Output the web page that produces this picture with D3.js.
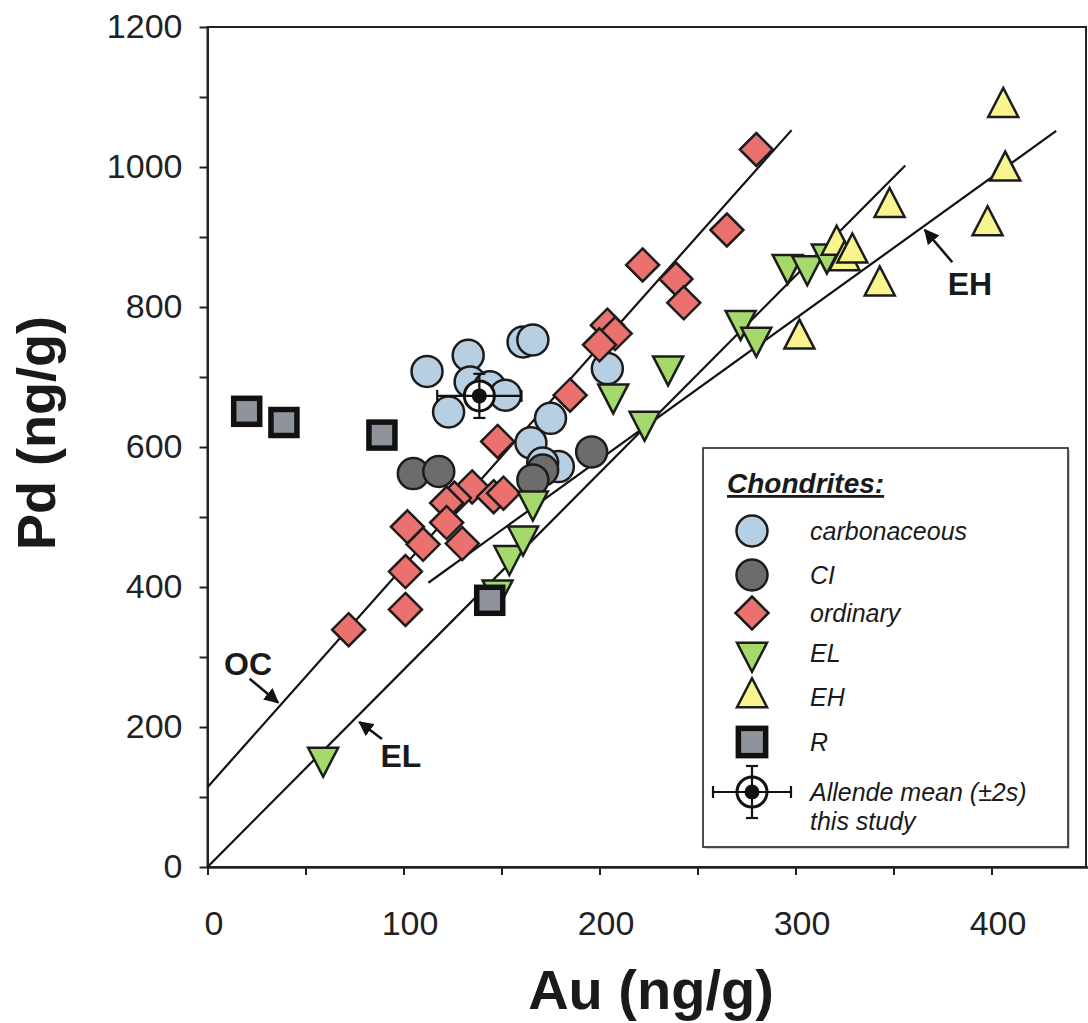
<!DOCTYPE html>
<html>
<head>
<meta charset="utf-8">
<script src="https://cdn.jsdelivr.net/npm/d3@7"></script>
<style>
  html, body { margin: 0; padding: 0; background: #fff; }
  svg { display: block; font-family: "Liberation Sans", Arial, Helvetica, sans-serif; }
</style>
</head>
<body>
<svg id="chart" width="1088" height="1023"></svg>
<script>
// Au vs Pd concentrations (ng/g) for chondrite groups
const carbonaceousAu = [112, 123, 133, 134, 144, 152, 161, 166, 204, 175, 165, 179, 171];
const carbonaceousPd = [708, 650, 731, 693, 686, 674, 750, 753, 712, 641, 606, 572, 577];

const ciAu = [105, 118, 196, 171, 166];
const ciPd = [562, 565, 593, 567, 553];

const ordinaryAu = [148, 135, 126, 122, 146, 151, 102, 122, 110, 130, 101, 101, 72,
                    280, 265, 222, 239, 243, 204, 208, 200, 185];
const ordinaryPd = [608, 543, 527, 520, 529, 534, 486, 492, 461, 462, 422, 368, 339,
                    1025, 910, 860, 840, 806, 774, 762, 746, 674];

const elAu = [59, 148, 154, 161, 166, 207, 223, 235, 272, 280, 296, 306, 316];
const elPd = [153, 392, 441, 469, 519, 672, 633, 712, 777, 753, 857, 855, 872];

const ehAu = [302, 321, 325, 329, 343, 348, 398, 406, 407];
const ehPd = [758, 892, 870, 881, 834, 946, 920, 1089, 998];

const rAu = [20, 39, 89, 144];
const rPd = [651, 635, 617, 381];

// Allende mean with ±2s
const allendeAu = 138.7, allendePd = 673;
const allendeErrAu = 21.5, allendeErrPd = 31.5;

// Regression lines: Pd = intercept + slope * Au over [auFrom, auTo]
const fitNames = ["OC", "EL", "EH"];
const fitIntercept = [114, 0, 179];
const fitSlope = [3.15, 2.815, 2.015];
const fitFrom = [0, 0, 112.7];
const fitTo = [298, 356, 433];

const xMajorTicks = [0, 100, 200, 300, 400];
const xMinorTicks = [50, 150, 250, 350];
const yMajorTicks = [0, 200, 400, 600, 800, 1000, 1200];
const yMinorTicks = [100, 300, 500, 700, 900, 1100];

const legendLabels = ["carbonaceous", "CI", "ordinary", "EL", "EH", "R"];

const svg = d3.select("#chart");
const x = d3.scaleLinear().domain([0, 450]).range([207.5, 1089.5]);
const y = d3.scaleLinear().domain([0, 1200]).range([867, 27]);

const INK = "#1c1c1c";
const styles = {
  carbonaceous: { fill: "#b7cfe2" },
  CI: { fill: "#6c6c6c" },
  ordinary: { fill: "#ea716e" },
  EL: { fill: "#a5d96b" },
  EH: { fill: "#f8f48e" },
  R: { fill: "#8f939c" }
};

// symbol path builders (pixel offsets from centre)
function diamondPath(h) { return `M0,${-h}L${h},0L0,${h}L${-h},0Z`; }
function triDownPath(w, h) { return `M${-w/2},${-h*0.42}L${w/2},${-h*0.42}L0,${h*0.58}Z`; }
function triUpPath(w, h) { return `M${-w/2},${h*0.42}L${w/2},${h*0.42}L0,${-h*0.58}Z`; }

function drawSymbol(g, type, cx, cy, scale = 1) {
  const t = `translate(${cx},${cy})`;
  if (type === "carbonaceous" || type === "CI") {
    g.append("circle").attr("cx", cx).attr("cy", cy).attr("r", 15.5 * scale)
      .attr("fill", styles[type].fill).attr("stroke", INK).attr("stroke-width", 2.5);
  } else if (type === "ordinary") {
    g.append("path").attr("d", diamondPath(16.5 * scale)).attr("transform", t)
      .attr("fill", styles.ordinary.fill).attr("stroke", INK).attr("stroke-width", 2.5).attr("stroke-linejoin", "miter");
  } else if (type === "EL") {
    g.append("path").attr("d", triDownPath(30 * scale, 29 * scale)).attr("transform", t)
      .attr("fill", styles.EL.fill).attr("stroke", INK).attr("stroke-width", 2.5).attr("stroke-linejoin", "miter");
  } else if (type === "EH") {
    g.append("path").attr("d", triUpPath(30 * scale, 29 * scale)).attr("transform", t)
      .attr("fill", styles.EH.fill).attr("stroke", INK).attr("stroke-width", 2.5).attr("stroke-linejoin", "miter");
  } else if (type === "R") {
    const s = 26 * scale;
    g.append("rect").attr("x", cx - s/2).attr("y", cy - s/2).attr("width", s).attr("height", s)
      .attr("fill", styles.R.fill).attr("stroke", "#111").attr("stroke-width", 5.5);
  }
}

function drawAllende(g, cx, cy, dx, dy) {
  const cap = 6;
  g.append("circle").attr("cx", cx).attr("cy", cy).attr("r", 15)
    .attr("fill", "#fff").attr("stroke", "#111").attr("stroke-width", 3);
  const lines = [
    [cx - dx, cy, cx + dx, cy], [cx, cy - dy, cx, cy + dy],
    [cx - dx, cy - cap, cx - dx, cy + cap], [cx + dx, cy - cap, cx + dx, cy + cap],
    [cx - cap, cy - dy, cx + cap, cy - dy], [cx - cap, cy + dy, cx + cap, cy + dy]
  ];
  lines.forEach(l => g.append("line").attr("x1", l[0]).attr("y1", l[1]).attr("x2", l[2]).attr("y2", l[3])
    .attr("stroke", "#111").attr("stroke-width", 2.2));
  g.append("circle").attr("cx", cx).attr("cy", cy).attr("r", 7.5).attr("fill", "#111");
}

// frame
svg.append("rect").attr("x", x(0)).attr("y", y(1200)).attr("width", 1086 - x(0)).attr("height", y(0) - y(1200))
  .attr("fill", "none").attr("stroke", "#222").attr("stroke-width", 2);

// axes
svg.append("g").attr("transform", `translate(${x(0)},0)`)
  .call(d3.axisLeft(y).tickValues(yMajorTicks).tickFormat(d3.format("d"))
    .tickSize(8).tickSizeOuter(0).tickPadding(17));
svg.append("g").attr("transform", `translate(${x(0)},0)`)
  .call(d3.axisLeft(y).tickValues(yMinorTicks).tickSize(8).tickSizeOuter(0).tickFormat(""));
const xAxis = svg.append("g").attr("transform", `translate(0,${y(0)})`)
  .call(d3.axisBottom(x).tickValues(xMajorTicks).tickFormat(d3.format("d"))
    .tickSize(8).tickSizeOuter(0).tickPadding(36));
svg.append("g").attr("transform", `translate(0,${y(0)})`)
  .call(d3.axisBottom(x).tickValues(xMinorTicks).tickSize(8).tickSizeOuter(0).tickFormat(""));
svg.selectAll(".domain").attr("stroke", "#222").attr("stroke-width", 2);
svg.selectAll(".tick line").attr("stroke", "#222").attr("stroke-width", 2);
svg.selectAll(".tick text").attr("font-size", 34).attr("fill", "#222")
  .attr("font-family", "'Liberation Sans', Arial, sans-serif");
xAxis.selectAll(".tick text").attr("dx", 6);

// axis titles
svg.append("text").attr("x", 651).attr("y", 1009).attr("text-anchor", "middle")
  .attr("font-size", 56).attr("font-weight", "bold").attr("fill", "#1a1a1a").text("Au (ng/g)");
svg.append("text").attr("transform", "translate(55,433) rotate(-90)").attr("text-anchor", "middle")
  .attr("font-size", 54).attr("font-weight", "bold").attr("fill", "#1a1a1a").text("Pd (ng/g)");

// regression lines
const plot = svg.append("g");
fitNames.forEach((n, i) => {
  plot.append("line")
    .attr("x1", x(fitFrom[i])).attr("y1", y(fitIntercept[i] + fitSlope[i] * fitFrom[i]))
    .attr("x2", x(fitTo[i])).attr("y2", y(fitIntercept[i] + fitSlope[i] * fitTo[i]))
    .attr("stroke", "#111").attr("stroke-width", 2.2);
});

// data points
function drawGroup(type, au, pd) {
  au.forEach((a, i) => drawSymbol(plot, type, x(a), y(pd[i])));
}
drawGroup("carbonaceous", carbonaceousAu, carbonaceousPd);
drawGroup("ordinary", ordinaryAu, ordinaryPd);
drawGroup("CI", ciAu, ciPd);
drawGroup("EL", elAu, elPd);
drawGroup("EH", ehAu, ehPd);
drawGroup("R", rAu, rPd);
drawAllende(plot, x(allendeAu), y(allendePd),
  x(allendeAu + allendeErrAu) - x(allendeAu), y(allendePd) - y(allendePd + allendeErrPd));

// line labels with arrows (label at [au, pd], arrow from tail to tip)
const defs = svg.append("defs");
defs.append("marker").attr("id", "head").attr("viewBox", "0 0 10 10").attr("refX", 9).attr("refY", 5)
  .attr("markerWidth", 6).attr("markerHeight", 6).attr("orient", "auto")
  .append("path").attr("d", "M0,0L10,5L0,10Z").attr("fill", "#111");
const notes = [
  { text: "OC", at: [20.7, 291], tail: [21.5, 269], tip: [36, 235] },
  { text: "EL", at: [98.7, 159], tail: [89, 183], tip: [77.5, 207] },
  { text: "EH", at: [389, 833], tail: [380, 864], tip: [366, 910] }
];
notes.forEach(nt => {
  svg.append("line").attr("x1", x(nt.tail[0])).attr("y1", y(nt.tail[1]))
    .attr("x2", x(nt.tip[0])).attr("y2", y(nt.tip[1]))
    .attr("stroke", "#111").attr("stroke-width", 2.5).attr("marker-end", "url(#head)");
  svg.append("text").attr("x", x(nt.at[0])).attr("y", y(nt.at[1])).attr("dy", "0.36em")
    .attr("text-anchor", "middle").attr("font-size", 32).attr("font-weight", "bold")
    .attr("fill", "#1a1a1a").text(nt.text);
});

// legend
const lg = svg.append("g");
lg.append("rect").attr("x", 705).attr("y", 450).attr("width", 365).attr("height", 399)
  .attr("fill", "#d0d0d0");
lg.append("rect").attr("x", 703).attr("y", 448).attr("width", 365).attr("height", 399)
  .attr("fill", "#fff").attr("stroke", "#222").attr("stroke-width", 1.6);
lg.append("text").attr("x", 727).attr("y", 493).attr("font-size", 28).attr("font-weight", "bold")
  .attr("font-style", "italic").attr("fill", "#1a1a1a").attr("text-decoration", "underline").text("Chondrites:");
const rowY = [531, 575, 613, 653, 697, 742];
legendLabels.forEach((lab, i) => {
  drawSymbol(lg, lab, 752, rowY[i] + (lab === "EL" ? 2 : lab === "EH" ? -2 : 0), lab === "R" ? 1.05 : 1);
  lg.append("text").attr("x", 810).attr("y", rowY[i]).attr("dy", "0.36em")
    .attr("font-size", 25).attr("font-style", "italic").attr("fill", "#1a1a1a").text(lab);
});
drawAllende(lg, 752, 792, 39, 26);
lg.append("text").attr("x", 810).attr("y", 792).attr("dy", "0.36em").attr("font-size", 25)
  .attr("font-style", "italic").attr("fill", "#1a1a1a").text("Allende mean (±2s)");
lg.append("text").attr("x", 810).attr("y", 821).attr("dy", "0.36em").attr("font-size", 25)
  .attr("font-style", "italic").attr("fill", "#1a1a1a").text("this study");
</script>
</body>
</html>
